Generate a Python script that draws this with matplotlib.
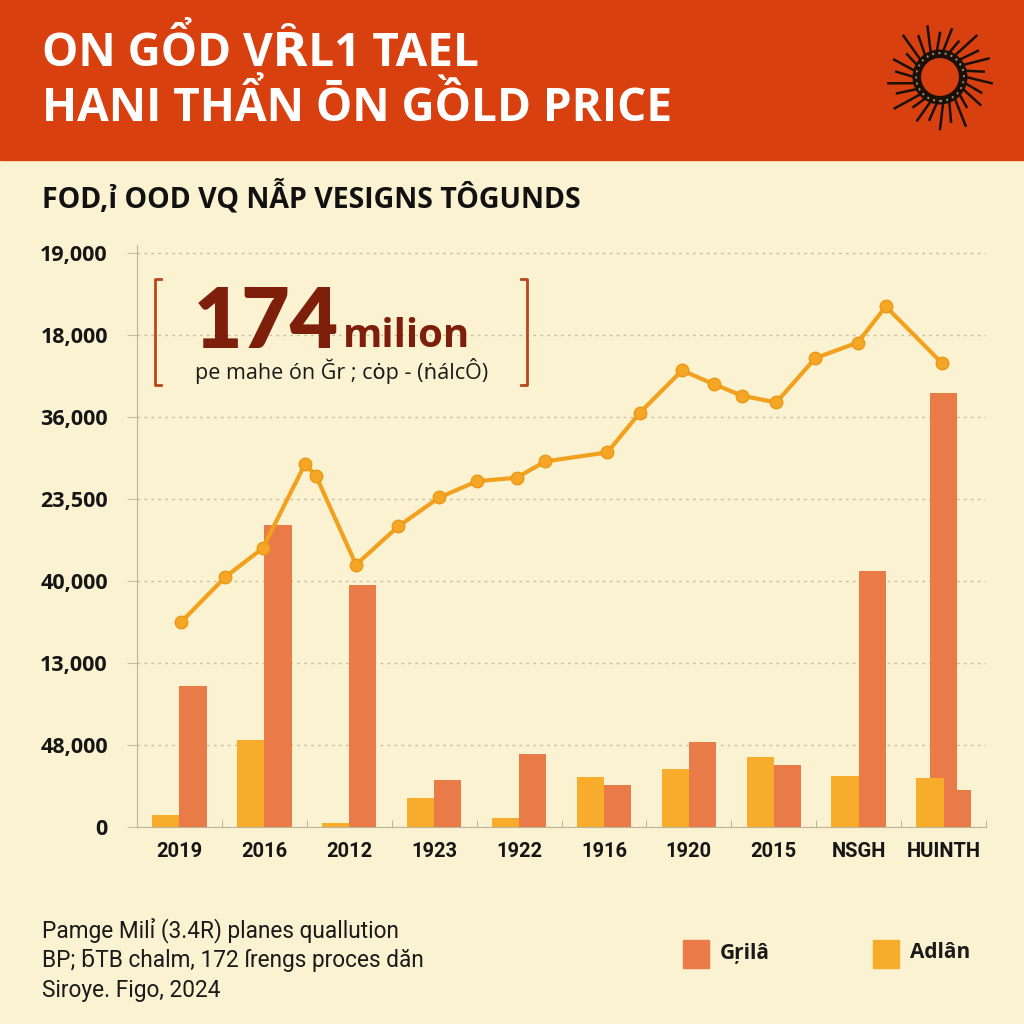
import numpy as np
import matplotlib
matplotlib.use("Agg")
import matplotlib.pyplot as plt
from matplotlib.patches import Rectangle, Circle
from matplotlib.lines import Line2D

# --- data ---
categories = ["2019", "2016", "2012", "1923", "1922", "1916", "1920", "2015", "NSGH", "HUINTH"]
adlan = [0.15, 1.06, 0.05, 0.35, 0.11, 0.61, 0.71, 0.85, 0.62, 0.60]
grila = [1.72, 3.68, 2.95, 0.57, 0.89, 0.51, 1.04, 0.76, 3.12, 0.45]
spike_value = 5.30  # tall extra bar sitting in the last group

line_x = [0.02, 0.54, 0.98, 1.48, 1.61, 2.08, 2.58, 3.06, 3.51, 3.97, 4.31,
          5.04, 5.42, 5.92, 6.30, 6.63, 7.03, 7.49, 7.99, 8.32, 8.98]
line_y = [2.50, 3.05, 3.40, 4.43, 4.28, 3.20, 3.67, 4.02, 4.22, 4.26, 4.46,
          4.57, 5.05, 5.57, 5.40, 5.26, 5.18, 5.72, 5.91, 6.35, 5.66]

ytick_labels = ["0", "48,000", "13,000", "40,000", "23,500", "36,000", "18,000", "19,000"]

title_lines = ["ON GỔD VȒL1 TAEL", "HANI THẨN ŌN GỒLD PRICE"]
subtitle = "FOD,ỉ OOD VQ NẪP VESIGNS TÔGUNDS"
big_number = "174"
big_unit = "milion"
big_note = "pe mahe ón Ğr ; cȯp - (ṅálcÔ)"
footer = ["Pamge Milỉ (3.4R) planes quallution",
          "BP; ƃTB chalm, 172 ſrengs proces dăn",
          "Siroye. Figo, 2024"]
legend_names = ["Gŗilâ", "Adlân"]

bg = "#FAF2D0"
header_col = "#D8400F"
orange = "#E87B48"
yellow = "#F8AC2C"
line_col = "#F2A11F"
dark_red = "#7E1F0C"
bracket_col = "#B8471C"

W = 1024.0


def fx(px):
    return px / W


def fy(py):
    return 1 - py / W


fig = plt.figure(figsize=(10.24, 10.24), dpi=100, facecolor=bg)

# header band
fig.patches.append(Rectangle((0, fy(160)), 1, 160 / W, transform=fig.transFigure,
                             color=header_col, zorder=0))
for i, t in enumerate(title_lines):
    fig.text(fx(42), fy(52 + 56 * i), t, color="white", fontsize=33, fontweight="bold",
             family=["Open Sans", "DejaVu Sans"], va="center", ha="left")

# sun icon
cx, cy = 940, 77
angles = np.linspace(0, 2 * np.pi, 26, endpoint=False)
ray_len = [52, 44, 49, 40, 55, 46]
for k, a in enumerate(angles):
    r2 = ray_len[k % len(ray_len)]
    fig.add_artist(Line2D([fx(cx + 26 * np.cos(a)), fx(cx + r2 * np.cos(a + 0.12))],
                          [fy(cy + 26 * np.sin(a)), fy(cy + r2 * np.sin(a + 0.12))],
                          transform=fig.transFigure, color="#1a1008", lw=1.8))
fig.add_artist(Circle((fx(cx), fy(cy)), 24 / W, transform=fig.transFigure,
                      fill=False, ec="#1a1008", lw=5))
fig.add_artist(Circle((fx(cx), fy(cy)), 24 / W, transform=fig.transFigure,
                      fill=False, ec="#9a8a70", lw=1.5, ls=(0, (1, 2))))
fig.add_artist(Circle((fx(cx), fy(cy)), 20 / W, transform=fig.transFigure,
                      fill=False, ec="#1a1008", lw=1.5))

# subtitle
fig.text(fx(42), fy(197), subtitle, color="#111111", fontsize=20.5, fontweight="bold",
         family=["Open Sans", "DejaVu Sans"], va="center", ha="left")

# main axes
ax = fig.add_axes([fx(137), fy(827), (986 - 137) / W, (827 - 245) / W])
ax.set_facecolor(bg)
x = np.arange(len(categories))
bw = 0.32
ax.bar(x - bw / 2, adlan, width=bw, color=yellow, zorder=3, linewidth=0)
ax.bar(x + bw / 2, grila, width=bw, color=orange, zorder=3, linewidth=0)
ax.bar(x[-1], spike_value, width=bw, color=orange, zorder=2, linewidth=0)
ax.plot(line_x, line_y, color=line_col, lw=3, marker="o", markersize=9,
        markerfacecolor="#F5A626", markeredgecolor="#EC9815", markeredgewidth=1, zorder=4)

ax.set_xlim(-0.5, 9.5)
ax.set_ylim(0, 7.1)
ax.set_yticks(range(len(ytick_labels)))
ax.set_yticklabels(ytick_labels, fontsize=15.5, fontweight="bold", family="Open Sans",
                   color="#161616")
ax.set_xticks(x)
ax.set_xticklabels(categories, fontsize=14.5, fontweight="bold", family="Roboto",
                   color="#161616")
ax.set_xticks(np.arange(-0.5, 10, 1), minor=True)
ax.tick_params(axis="x", which="major", length=0, pad=11)
ax.tick_params(axis="x", which="minor", length=5, color="#B0A78E", direction="in")
ax.tick_params(axis="y", length=7, color="#C8BFA3", pad=14)
ax.grid(axis="y", color="#C9C0A2", lw=1, ls=(0, (2, 3)), zorder=0)
for s in ["top", "right"]:
    ax.spines[s].set_visible(False)
ax.spines["left"].set_color("#BDB49A")
ax.spines["bottom"].set_color("#BDB49A")

# annotation with brackets
for bx, d in [(155, 1), (527, -1)]:
    fig.add_artist(Line2D([fx(bx + 6 * d), fx(bx), fx(bx), fx(bx + 6 * d)],
                          [fy(279), fy(279), fy(385), fy(385)],
                          transform=fig.transFigure, color=bracket_col, lw=2))
fig.text(fx(194), fy(348), big_number, color=dark_red, fontsize=60, fontweight="heavy",
         family=["Lato", "DejaVu Sans"], va="baseline", ha="left")
fig.text(fx(343), fy(347), big_unit, color=dark_red, fontsize=29, fontweight="bold",
         family=["Open Sans", "DejaVu Sans"], va="baseline", ha="left")
fig.text(fx(195), fy(371), big_note, color="#1a1a1a", fontsize=15.5,
         family=["Open Sans", "DejaVu Sans"], va="center", ha="left")

# footer
for i, t in enumerate(footer):
    fig.text(fx(42), fy(930 + 30.5 * i), t, color="#1a1a1a", fontsize=16.3,
             family=["Roboto", "DejaVu Sans"], va="center", ha="left")

# legend
for (sx, col, name) in [(683, orange, legend_names[0]), (873, yellow, legend_names[1])]:
    fig.patches.append(Rectangle((fx(sx), fy(968)), 26 / W, 28 / W,
                                 transform=fig.transFigure, color=col))
    fig.text(fx(sx + 37), fy(953), name, color="#1a1a1a", fontsize=15, fontweight="bold",
             family=["Open Sans", "DejaVu Sans"], va="center", ha="left")

fig.savefig("out.png", dpi=100, facecolor=bg)
